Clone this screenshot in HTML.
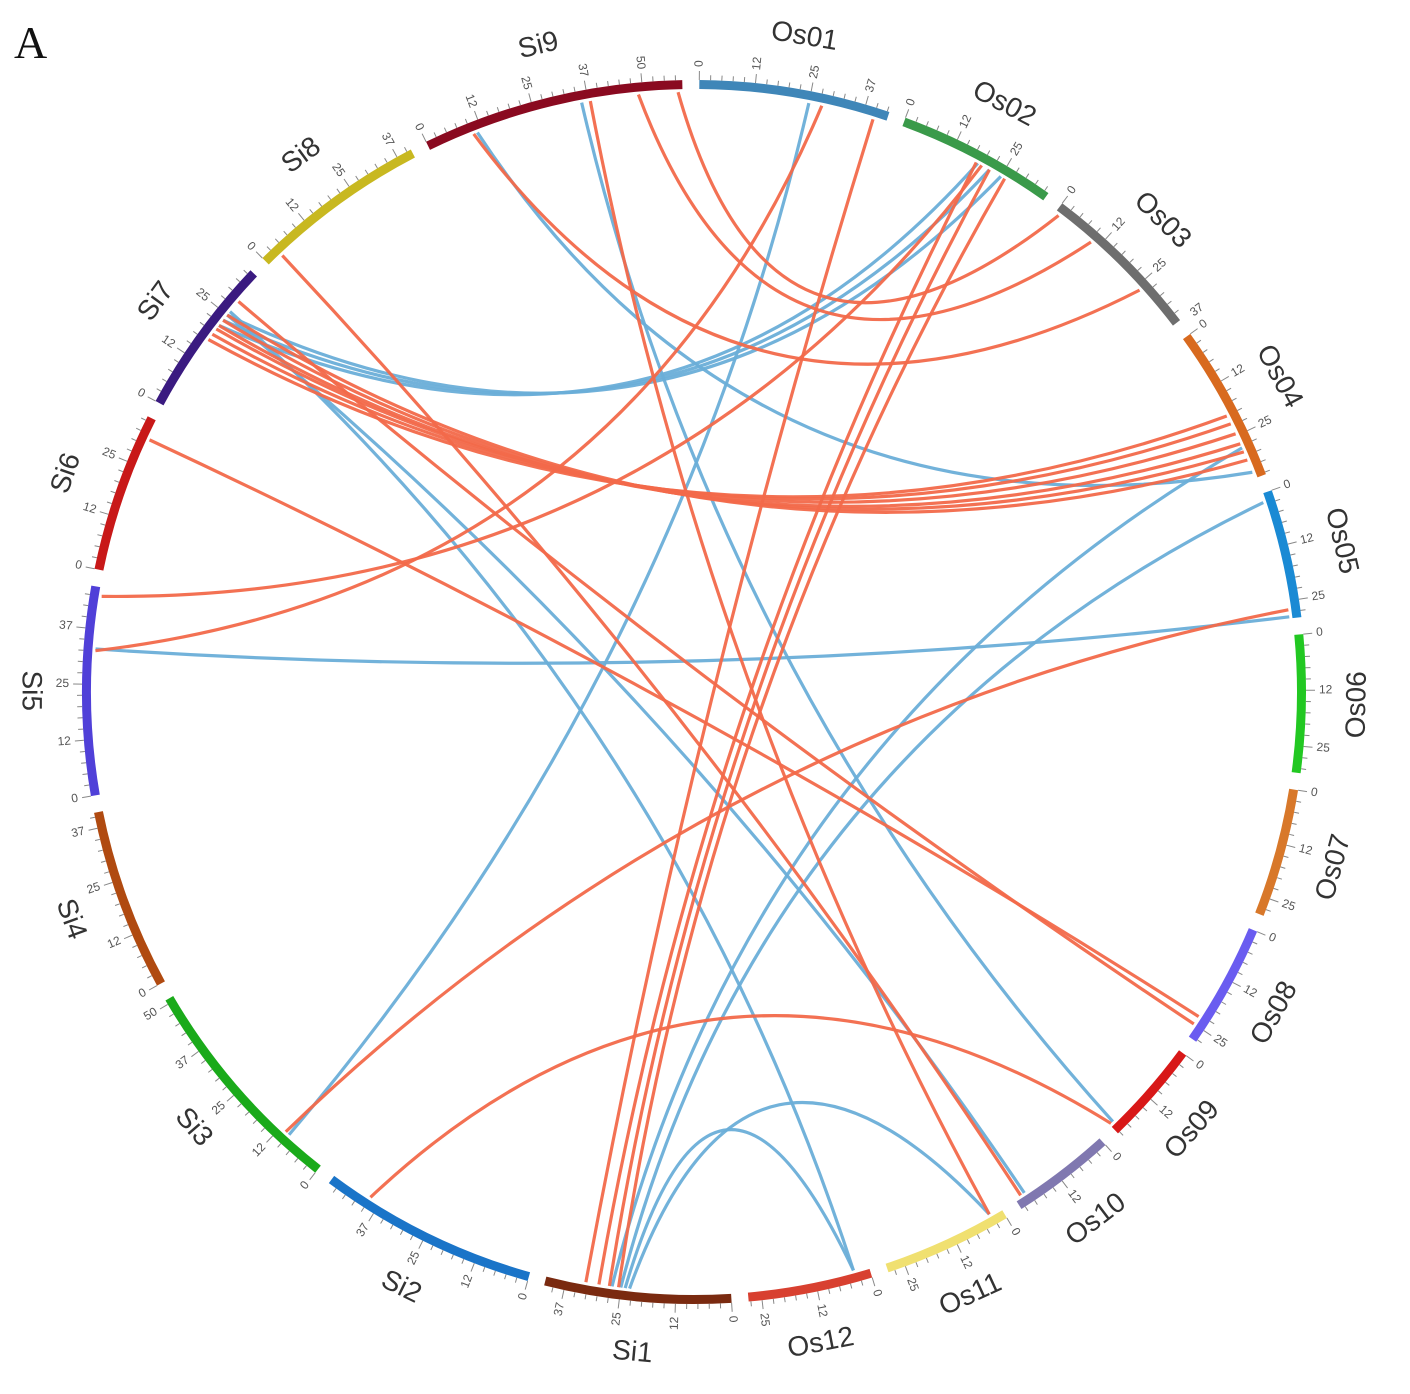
<!DOCTYPE html>
<html><head><meta charset="utf-8"><style>
html,body{margin:0;padding:0;background:#fff;}
svg{display:block;}
</style></head><body>
<svg id="chart" width="1410" height="1394" viewBox="0 0 1410 1394" xmlns="http://www.w3.org/2000/svg">
<text x="14" y="58" font-family="Liberation Serif, serif" font-size="46" fill="#111">A</text>
<g id="links"></g>
<g id="ideo"></g>
</svg>
<script>
const chromNames = ["Os01","Os02","Os03","Os04","Os05","Os06","Os07","Os08","Os09","Os10","Os11","Os12","Si1","Si2","Si3","Si4","Si5","Si6","Si7","Si8","Si9"];
const chromLengths = [43,36,37,35.5,29,31,29,28,23,23.5,29,28,42,49.5,51,41,47,36,36,41,59];
const chromColors = ["#3f86b8","#3a9a4a","#6e6e6e","#d86a1f","#1a8ad4","#22c822","#d8782a","#6a5cf0","#d81818","#8078b0","#f0e070","#d84030","#7a2a10","#1a74c8","#1aaa1a","#b04a10","#5040d8","#c81818","#3a1a80","#c8b820","#8a0a20"];
const tickLabels = [0,12,25,37,50];
const redSrcChrom = ["Si9","Si9","Si9","Si9","Si5","Os01","Os02","Os02","Os02","Si5","Si7","Si7","Si7","Si7","Si7","Si7","Si8","Si6","Si7","Si2","Si3"];
const redSrcPos   = [10.5,49,58,38,32.6,40,18.6,22,26,45,18,19.5,21,22,23.5,25,3.6,31.4,29,40,11];
const redDstChrom = ["Os03","Os03","Os03","Os11","Os01","Si1","Si1","Si1","Si1","Os02","Os04","Os04","Os04","Os04","Os04","Os04","Os10","Os08","Os08","Os09","Os05"];
const redDstPos   = [26,10.5,1,3,28,33,30,27.6,25.5,20,20,22,24.5,27,29,31,22,23,25,22.6,27];
const blueSrcChrom = ["Si9","Os01","Os02","Os02","Os02","Si7","Si7","Si9","Si5","Os04","Os05","Si1","Si1"];
const blueSrcPos   = [11.4,25,19,22,25,25,26,36,33,28,2,23,24];
const blueDstChrom = ["Os04","Si3","Si7","Si7","Si7","Os10","Os12","Os09","Os05","Si1","Si1","Os11","Os12"];
const blueDstPos   = [34,10,22,23.5,25,21,3.6,22,28.6,27,25,3,3.6];

const NS="http://www.w3.org/2000/svg";
const cx=694, cy=692, R=600, bandIn=603, bandOut=612;
const gap=1.6, startA=0.5;
const total=chromLengths.reduce((a,b)=>a+b,0);
const degPerMb=(360-gap*chromNames.length)/total;
const starts={};
let a=startA;
chromNames.forEach((n,i)=>{starts[n]=a; a+=chromLengths[i]*degPerMb+gap;});
function ang(ch,pos){return starts[ch]+pos*degPerMb;}
function pt(deg,r){const t=deg*Math.PI/180;return [cx+r*Math.sin(t),cy-r*Math.cos(t)];}
function mk(tag,attrs,parent){const e=document.createElementNS(NS,tag);for(const k in attrs)e.setAttribute(k,attrs[k]);parent.appendChild(e);return e;}

const ideo=document.getElementById('ideo');
chromNames.forEach((n,i)=>{
  const a0=starts[n], a1=a0+chromLengths[i]*degPerMb;
  const g=mk('g',{},ideo);
  
  
  const p0=pt(a0,bandOut),p1=pt(a1,bandOut),p2=pt(a1,bandIn),p3=pt(a0,bandIn);
  const large=(a1-a0)>180?1:0;
  const band=mk('path',{d:`M${p0[0]},${p0[1]} A${bandOut},${bandOut} 0 ${large} 1 ${p1[0]},${p1[1]} L${p2[0]},${p2[1]} A${bandIn},${bandIn} 0 ${large} 0 ${p3[0]},${p3[1]} Z`,fill:chromColors[i]},g);
  
  
  let d='';
  for(let m=0;m<=chromLengths[i]+0.01;m+=2.5){
    const ta=ang(n,m);const major=(m%12.5===0);
    const q0=pt(ta,bandOut),q1=pt(ta,bandOut+(major?9:5));
    d+=`M${q0[0].toFixed(1)},${q0[1].toFixed(1)}L${q1[0].toFixed(1)},${q1[1].toFixed(1)}`;
  }
  const tk=mk('path',{d:d,stroke:'#888','stroke-width':1,fill:'none'},g);
  
  
  tickLabels.forEach(v=>{
    if(v>chromLengths[i])return;
    const ta=ang(n,v===12?12.5:v===37?37.5:v);
    const p=pt(ta,bandOut+13);
    const right=ta<180;
    const t=mk('text',{x:p[0],y:p[1],'font-family':'Liberation Sans, sans-serif','font-size':12,fill:'#555','dominant-baseline':'middle','text-anchor':right?'start':'end',transform:`rotate(${right?ta-90:ta+90} ${p[0]} ${p[1]})`},g);
    t.textContent=v;
    
    
  });
  const mid=(a0+a1)/2;
  const lp=pt(mid,664);
  const flip=mid>85&&mid<280;
  const nt=mk('text',{x:lp[0],y:lp[1],'font-family':'Liberation Sans, sans-serif','font-size':28,fill:'#333','text-anchor':'middle','dominant-baseline':'middle',transform:`rotate(${flip?mid-180:mid} ${lp[0]} ${lp[1]})`},g);
  nt.textContent=n;
  
  
});

const links=document.getElementById('links');
function drawLink(c1,p1,c2,p2,color,name){
  const A1=ang(c1,p1),A2=ang(c2,p2);
  let span=Math.abs(A2-A1); if(span>180)span=360-span;
  let mid=(A1+A2)/2; if(Math.abs(A2-A1)>180)mid+=180;
  const h=Math.cos(span/2*Math.PI/180);
  const rc=0.5*R*h*h;
  const s=pt(A1,R),e=pt(A2,R),c=pt(mid,rc);
  const p=mk('path',{d:`M${s[0]},${s[1]} Q${c[0]},${c[1]} ${e[0]},${e[1]}`,stroke:color,'stroke-width':3.2,fill:'none','stroke-opacity':0.95},links);
  
  
}
for(let i=0;i<blueSrcChrom.length;i++)drawLink(blueSrcChrom[i],blueSrcPos[i],blueDstChrom[i],blueDstPos[i],'#6aaed8','link-blue');
for(let i=0;i<redSrcChrom.length;i++)drawLink(redSrcChrom[i],redSrcPos[i],redDstChrom[i],redDstPos[i],'#f2694a','link-red');
</script>
</body></html>
